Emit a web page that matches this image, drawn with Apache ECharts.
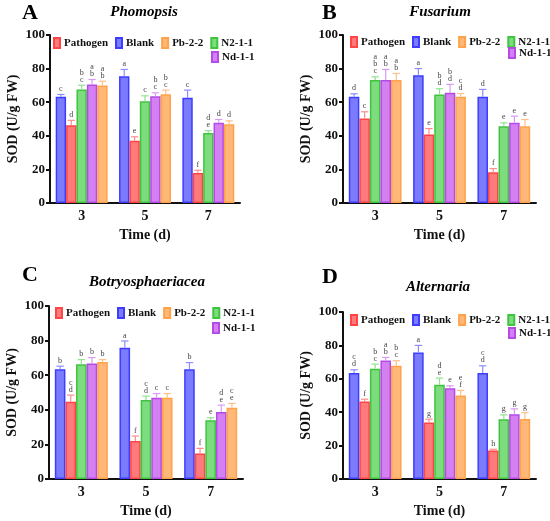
<!DOCTYPE html>
<html>
<head>
<meta charset="utf-8">
<script src="https://cdn.jsdelivr.net/npm/echarts@6/dist/echarts.min.js"></script>
<style>
  html, body { margin: 0; padding: 0; background: #fff; }
  #main { width: 550px; height: 521px; }
</style>
</head>
<body>
<div id="main"></div>
<script>
// x categories (days) and bar order inside each group
const categories = ['3', '5', '7'];
const groups = ['Blank', 'Pathogen', 'N2-1-1', 'Nd-1-1', 'Pb-2-2'];
const legendRow1 = ['Pathogen', 'Blank', 'Pb-2-2', 'N2-1-1'];
const legendRow2 = ['Nd-1-1'];
const yTicks = [0, 20, 40, 60, 80, 100];

// rows follow groups: Blank, Pathogen, N2-1-1, Nd-1-1, Pb-2-2
const phomopsisMeans = [[63.2, 75.5, 62.6], [46.3, 37.0, 17.9], [67.6, 60.6, 41.7], [70.6, 63.6, 47.7], [70.0, 64.8, 46.9]];
const phomopsisErr = [[1.4, 4.0, 4.6], [2.9, 2.4, 1.6], [2.5, 3.2, 1.3], [2.9, 2.0, 2.0], [2.5, 2.4, 2.0]];
const phomopsisLetters = [['c', 'a', 'c'], ['d', 'e', 'f'], ['bc', 'c', 'de'], ['ab', 'bc', 'd'], ['ab', 'bc', 'd']];

const fusariumMeans = [[63.2, 76.0, 63.2], [50.3, 40.8, 18.3], [73.2, 64.6, 45.7], [73.2, 65.6, 47.7], [73.2, 63.2, 45.7]];
const fusariumErr = [[1.8, 4.0, 4.4], [4.0, 3.5, 2.2], [1.9, 3.4, 2.0], [6.3, 5.0, 4.0], [3.9, 2.0, 4.0]];
const fusariumLetters = [['d', 'a', 'd'], ['c', 'e', 'f'], ['abc', 'bd', 'e'], ['ab', 'bd', 'e'], ['ab', 'cd', 'e']];

const botryoMeans = [[63.5, 75.8, 63.5], [44.6, 21.9, 14.8], [66.3, 45.6, 34.0], [66.7, 46.9, 38.8], [67.7, 46.9, 41.2]];
const botryoErr = [[1.7, 4.0, 3.8], [3.9, 2.9, 2.9], [2.7, 2.3, 1.4], [3.5, 2.5, 3.9], [1.3, 2.5, 2.5]];
const botryoLetters = [['b', 'a', 'b'], ['cd', 'f', 'f'], ['b', 'cd', 'e'], ['b', 'c', 'de'], ['b', 'c', 'ce']];

const alternariaMeans = [[63.4, 75.8, 63.4], [46.4, 33.8, 17.0], [66.0, 56.4, 35.8], [71.0, 54.4, 38.8], [67.8, 50.0, 36.0]];
const alternariaErr = [[2.0, 4.2, 4.4], [1.4, 2.0, 0.8], [2.8, 4.0, 2.6], [1.8, 1.4, 3.2], [3.0, 3.0, 3.8]];
const alternariaLetters = [['cd', 'a', 'cd'], ['f', 'g', 'h'], ['bc', 'de', 'g'], ['ab', 'e', 'g'], ['bc', 'ef', 'g']];

const fills = { 'Blank': '#7b7bff', 'Pathogen': '#ff7b7b', 'N2-1-1': '#7ddc7d', 'Nd-1-1': '#d47ff2', 'Pb-2-2': '#ffb878' };
const borders = { 'Blank': '#3d3dff', 'Pathogen': '#ff4545', 'N2-1-1': '#3fc43f', 'Nd-1-1': '#b44be6', 'Pb-2-2': '#ffa24a' };
const errColors = { 'Blank': '#8d8dff', 'Pathogen': '#ff8d8d', 'N2-1-1': '#8fe38f', 'Nd-1-1': '#d99af5', 'Pb-2-2': '#ffbf8a' };

const FONT = '"Liberation Serif", "DejaVu Serif", serif';
const GAP = 0.18;

const panels = [
  { tag: 'A', title: 'Phomopsis', means: phomopsisMeans, err: phomopsisErr, letters: phomopsisLetters,
    grid: { left: 50, top: 35, width: 190, height: 168 }, tagPos: [22, 13], titlePos: [144, 12],
    leg1: [53, 37], leg2: [211, 51] },
  { tag: 'B', title: 'Fusarium', means: fusariumMeans, err: fusariumErr, letters: fusariumLetters,
    grid: { left: 343, top: 35, width: 193, height: 168 }, tagPos: [322, 13], titlePos: [440, 12],
    leg1: [350, 36], leg2: [508, 47] },
  { tag: 'C', title: 'Botryosphaeriacea', means: botryoMeans, err: botryoErr, letters: botryoLetters,
    grid: { left: 49, top: 306, width: 194, height: 173 }, tagPos: [22, 275], titlePos: [147, 282],
    leg1: [55, 307], leg2: [212, 322] },
  { tag: 'D', title: 'Alternaria', means: alternariaMeans, err: alternariaErr, letters: alternariaLetters,
    grid: { left: 343, top: 312, width: 193, height: 167 }, tagPos: [322, 277], titlePos: [438, 287],
    leg1: [350, 314], leg2: [508, 327] }
];

const option = {
  backgroundColor: '#fff',
  animation: false,
  grid: [], xAxis: [], yAxis: [], series: [], legend: [], graphic: []
};

panels.forEach(function (p, pi) {
  option.grid.push(p.grid);
  option.xAxis.push({
    type: 'category', gridIndex: pi, data: categories,
    name: 'Time (d)', nameLocation: 'middle', nameGap: 25,
    nameTextStyle: { fontFamily: FONT, fontWeight: 'bold', fontSize: 14, color: '#111' },
    axisLine: { lineStyle: { color: '#111', width: 2 } },
    axisTick: { alignWithLabel: true, length: 4, lineStyle: { width: 2, color: '#111' } },
    axisLabel: { fontFamily: FONT, fontWeight: 'bold', fontSize: 14, color: '#111', margin: 6 }
  });
  option.yAxis.push({
    type: 'value', gridIndex: pi, min: yTicks[0], max: yTicks[yTicks.length - 1], interval: 20,
    name: 'SOD (U/g FW)', nameLocation: 'middle', nameGap: 30,
    nameTextStyle: { fontFamily: FONT, fontWeight: 'bold', fontSize: 14, color: '#111' },
    axisLine: { show: true, lineStyle: { color: '#111', width: 2 } },
    axisTick: { show: true, length: 4, lineStyle: { width: 2, color: '#111' } },
    axisLabel: { fontFamily: FONT, fontWeight: 'bold', fontSize: 13, color: '#111', margin: 5 },
    splitLine: { show: false }
  });

  groups.forEach(function (g, k) {
    option.series.push({
      type: 'bar', name: g, xAxisIndex: pi, yAxisIndex: pi,
      data: p.means[k], barGap: '0%', barCategoryGap: (GAP * 100) + '%',
      itemStyle: { color: fills[g], borderColor: borders[g], borderWidth: 1.5 },
      z: 2
    });
  });

  groups.forEach(function (g, k) {
    option.series.push({
      type: 'custom', name: g + ' err', xAxisIndex: pi, yAxisIndex: pi, z: 3,
      data: categories.map(function (c, i) { return [i, p.means[k][i], p.err[k][i]]; }),
      encode: { x: 0, y: 1 },
      renderItem: function (params, api) {
        const i = api.value(0);
        const m = api.value(1);
        const e = api.value(2);
        const lab = p.letters[k][i].split('').join('\n');
        const w = api.size([1, 0])[0];
        const bw = w * (1 - GAP) / groups.length;
        const base = api.coord([i, m]);
        const top = api.coord([i, m + e]);
        const cx = base[0] - w * (1 - GAP) / 2 + (k + 0.5) * bw;
        const cap = bw * 0.35;
        const st = { stroke: errColors[g], lineWidth: 1.2 };
        return {
          type: 'group',
          children: [
            { type: 'line', shape: { x1: cx, y1: base[1], x2: cx, y2: top[1] }, style: st },
            { type: 'line', shape: { x1: cx - cap, y1: top[1], x2: cx + cap, y2: top[1] }, style: st },
            { type: 'text', x: cx, y: top[1] - 2,
              style: { text: lab, fontFamily: FONT, fontSize: 8, lineHeight: 7, fill: '#444',
                align: 'center', verticalAlign: 'bottom' } }
          ]
        };
      }
    });
  });

  const legBase = {
    icon: 'rect', itemWidth: 6, itemHeight: 10, itemGap: 7, orient: 'horizontal', width: 260,
    textStyle: { fontFamily: FONT, fontWeight: 'bold', fontSize: 11, color: '#111', padding: [0, 0, 0, -1] },
    selectedMode: false, padding: 0
  };
  option.legend.push(Object.assign({}, legBase, { data: legendRow1, left: p.leg1[0], top: p.leg1[1] }));
  option.legend.push(Object.assign({}, legBase, { data: legendRow2, left: p.leg2[0], top: p.leg2[1] }));

  option.graphic.push({
    type: 'text', x: p.tagPos[0], y: p.tagPos[1],
    style: { text: p.tag, fontFamily: FONT, fontWeight: 'bold', fontSize: 22, fill: '#000', verticalAlign: 'middle' }
  });
  option.graphic.push({
    type: 'text', x: p.titlePos[0], y: p.titlePos[1],
    style: { text: p.title, fontFamily: FONT, fontWeight: 'bold', fontStyle: 'italic', fontSize: 15,
      fill: '#000', align: 'center', verticalAlign: 'middle' }
  });
});

const chart = echarts.init(document.getElementById('main'));
chart.setOption(option);
</script>
</body>
</html>
